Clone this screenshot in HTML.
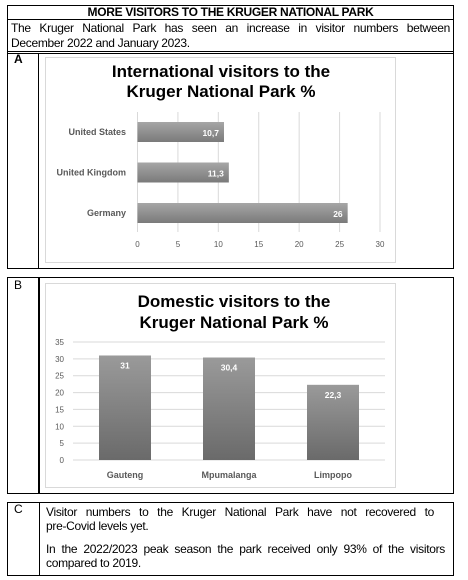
<!DOCTYPE html>
<html><head><meta charset="utf-8"><style>
body{margin:0;width:468px;height:580px;background:#fff;position:relative;font-family:"Liberation Sans",Arial,sans-serif;overflow:hidden}
.abs{position:absolute}
.box{position:absolute;border:1px solid #000;box-sizing:border-box}
.t{font-size:12px;color:#000;letter-spacing:-0.3px}
.j{text-align:justify;text-align-last:justify;white-space:nowrap}
</style></head><body>
<div class="box" style="left:7px;top:5px;width:447px;height:264px;border-width:1.5px"></div>
<div class="abs" style="left:7px;top:19px;width:447px;height:1px;background:#000"></div>
<div class="abs" style="left:7px;top:51px;width:447px;height:1px;background:#000"></div>
<div class="abs" style="left:7px;top:53px;width:447px;height:1px;background:#000"></div>
<div class="abs" style="left:38px;top:53px;width:1px;height:216px;background:#000"></div>
<div class="abs t" style="left:7px;top:5px;width:447px;text-align:center;font-weight:bold;font-size:12px;line-height:14px">MORE VISITORS TO THE KRUGER NATIONAL PARK</div>
<div class="abs t" style="left:11px;top:21px;width:439px;line-height:15px"><div class="j">The Kruger National Park has seen an increase in visitor numbers between</div><div>December 2022 and January 2023.</div></div>
<div class="abs t" style="left:14px;top:53px;font-weight:bold;line-height:13px">A</div>

<svg class="abs" style="left:0;top:0" width="468" height="580">
<defs>
<linearGradient id="gh" x1="0" y1="0" x2="0" y2="1"><stop offset="0" stop-color="#a6a6a6"/><stop offset="1" stop-color="#7a7a7a"/></linearGradient>
<linearGradient id="gv" x1="0" y1="0" x2="0" y2="1"><stop offset="0" stop-color="#9a9a9a"/><stop offset="1" stop-color="#6a6a6a"/></linearGradient>
</defs>
<g id="chartA"></g>
<g id="chartB"></g>
</svg>

<div class="box" style="left:7px;top:277px;width:447px;height:217px;border-width:1.5px"></div>
<div class="abs" style="left:38px;top:277px;width:1.5px;height:217px;background:#000"></div>
<div class="abs t" style="left:14px;top:279px;line-height:13px">B</div>

<div class="box" style="left:7px;top:502px;width:447px;height:74px"></div>
<div class="abs" style="left:39px;top:502px;width:1px;height:74px;background:#000"></div>
<div class="abs t" style="left:14px;top:503px;line-height:13px">C</div>
<div class="abs t" style="left:46px;top:505px;width:388px;line-height:14px"><div class="j">Visitor numbers to the Kruger National Park have not recovered to</div><div>pre-Covid levels yet.</div><div style="height:9px"></div><div class="j" style="width:399px">In the 2022/2023 peak season the park received only 93% of the visitors</div><div>compared to 2019.</div></div>

<script>
const aCats=["United States","United Kingdom","Germany"];
const aVals=[10.7,11.3,26];
const aLabels=["10,7","11,3","26"];
const aTicks=[0,5,10,15,20,25,30];
const bCats=["Gauteng","Mpumalanga","Limpopo"];
const bVals=[31,30.4,22.3];
const bLabels=["31","30,4","22,3"];
const bTicks=[0,5,10,15,20,25,30,35];
const NS="http://www.w3.org/2000/svg";
function mk(p,tag,at,txt){const e=document.createElementNS(NS,tag);for(const k in at)e.setAttribute(k,at[k]);if(txt!=null)e.textContent=txt;p.appendChild(e);return e;}
const F='"Liberation Sans",Arial,sans-serif';
// Chart A
const A=document.getElementById('chartA');
let r=mk(A,'rect',{x:45.5,y:57.5,width:350,height:205,fill:'#fff',stroke:'#d9d9d9'});

let t=mk(A,'text',{x:221,y:77,'text-anchor':'middle','font-family':F,'font-size':17,'font-weight':'bold',fill:'#000'},'International visitors to the');

t=mk(A,'text',{x:221,y:97,'text-anchor':'middle','font-family':F,'font-size':17,'font-weight':'bold',fill:'#000'},'Kruger National Park %');

const ax=v=>137.5+v*(380-137.5)/30;
const ay=i=>122+i*40.5;
aTicks.forEach(v=>{
 const l=mk(A,'line',{x1:ax(v),x2:ax(v),y1:112,y2:232,stroke:'#d9d9d9'});
 
 const tx=mk(A,'text',{x:ax(v),y:247,'text-anchor':'middle','font-family':F,'font-size':8,fill:'#595959'},v);
 
});
aCats.forEach((c,i)=>{
 const b=mk(A,'rect',{x:ax(0),y:ay(i),width:ax(aVals[i])-ax(0),height:20,fill:'url(#gh)'});
 
 const cl=mk(A,'text',{x:126,y:ay(i)+13,'text-anchor':'end','font-family':F,'font-size':9,'font-weight':'bold',fill:'#595959'},c);
 
 const vl=mk(A,'text',{x:ax(aVals[i])-5,y:ay(i)+14,'text-anchor':'end','font-family':F,'font-size':8.5,'font-weight':'bold',fill:'#fff'},aLabels[i]);
 
});
// Chart B
const B=document.getElementById('chartB');
r=mk(B,'rect',{x:45.5,y:283.5,width:350,height:204,fill:'#fff',stroke:'#d9d9d9'});

t=mk(B,'text',{x:234,y:307,'text-anchor':'middle','font-family':F,'font-size':17,'font-weight':'bold',fill:'#000'},'Domestic visitors to the');

t=mk(B,'text',{x:234,y:328,'text-anchor':'middle','font-family':F,'font-size':17,'font-weight':'bold',fill:'#000'},'Kruger National Park %');

const by=v=>460-v*(460-342)/35;
const bx=i=>99+i*104;
bTicks.forEach(v=>{
 const l=mk(B,'line',{x1:73,x2:385,y1:by(v),y2:by(v),stroke:'#d9d9d9'});
 
 const tx=mk(B,'text',{x:64,y:by(v)+3,'text-anchor':'end','font-family':F,'font-size':8,fill:'#595959'},v);
 
});
bCats.forEach((c,i)=>{
 const b=mk(B,'rect',{x:bx(i),y:by(bVals[i]),width:52,height:by(0)-by(bVals[i]),fill:'url(#gv)'});
 
 const cl=mk(B,'text',{x:bx(i)+26,y:478,'text-anchor':'middle','font-family':F,'font-size':9,'font-weight':'bold',fill:'#595959'},c);
 
 const vl=mk(B,'text',{x:bx(i)+26,y:by(bVals[i])+13,'text-anchor':'middle','font-family':F,'font-size':8.5,'font-weight':'bold',fill:'#fff'},bLabels[i]);
 
});
</script>
</body></html>
